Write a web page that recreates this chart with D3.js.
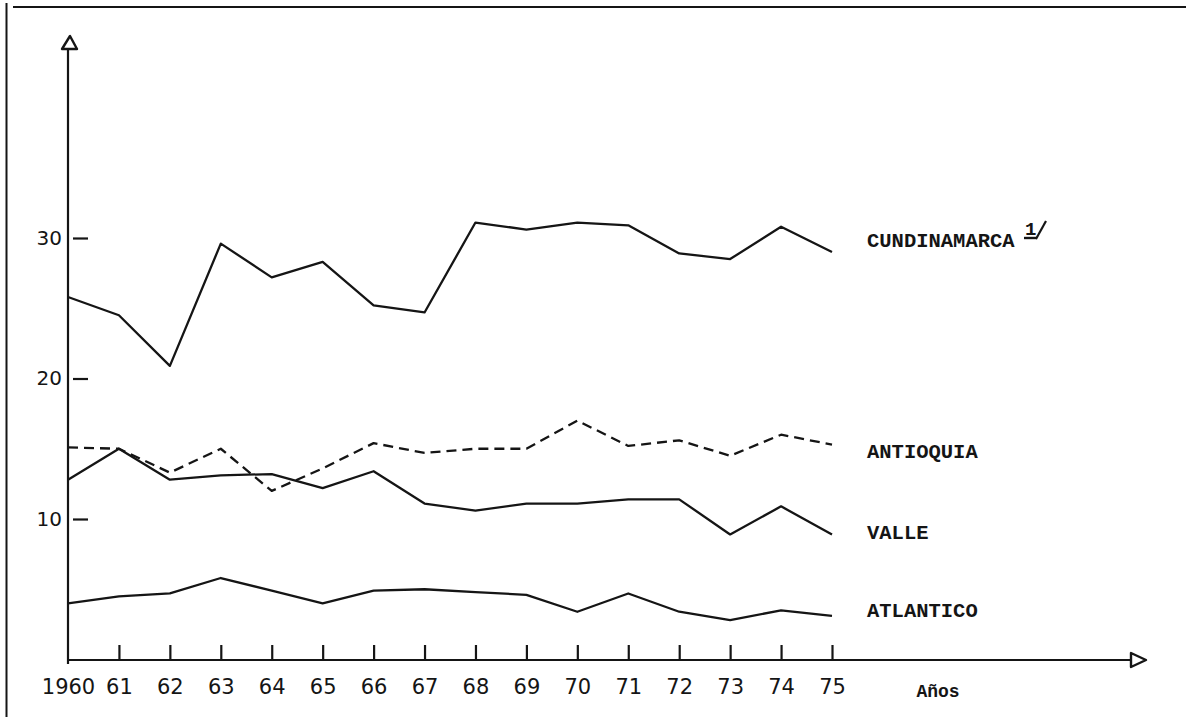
<!DOCTYPE html>
<html>
<head>
<meta charset="utf-8">
<script src="https://cdn.jsdelivr.net/npm/d3@7"></script>
<style>
body{margin:0;background:#fff}
svg{display:block}
</style>
</head>
<body>
<svg id="chart" width="1186" height="717"></svg>
<script>
// valores (porcentaje por departamento)
var YEARS = [1960,1961,1962,1963,1964,1965,1966,1967,1968,1969,1970,1971,1972,1973,1974,1975]
var CUNDINAMARCA = [25.8,24.5,20.9,29.6,27.2,28.3,25.2,24.7,31.1,30.6,31.1,30.9,28.9,28.5,30.8,29.0]
var ANTIOQUIA = [15.1,15.0,13.3,15.0,12.0,13.6,15.4,14.7,15.0,15.0,17.0,15.2,15.6,14.5,16.0,15.3]
var VALLE = [12.8,15.0,12.8,13.1,13.2,12.2,13.4,11.1,10.6,11.1,11.1,11.4,11.4,8.9,10.9,8.9]
var ATLANTICO = [4.0,4.5,4.7,5.8,4.9,4.0,4.9,5.0,4.8,4.6,3.4,4.7,3.4,2.8,3.5,3.1]
var Y_TICKS = [10,20,30]
var SERIES_NAMES = ["CUNDINAMARCA","ANTIOQUIA","VALLE","ATLANTICO"]
var X_TITLE = "Años"

var INK = "#151515"
var svg = d3.select("#chart")

var x = d3.scaleLinear().domain([1960,1975]).range([68,832])
var y = d3.scaleLinear().domain([0,30]).range([659.5,238])

//* marco de la hoja
svg.append("line").attr("x1",6.5).attr("y1",3).attr("x2",6.5).attr("y2",717)
    .attr("stroke",INK).attr("stroke-width",2)
svg.append("line").attr("x1",13).attr("y1",7).attr("x2",1186).attr("y2",7)
    .attr("stroke",INK).attr("stroke-width",2)

//* ejes con flecha abierta
svg.append("line").attr("x1",68).attr("y1",664).attr("x2",68).attr("y2",49)
    .attr("stroke",INK).attr("stroke-width",2.2)
svg.append("path").attr("d","M70,36 L62,49 L77,49 Z")
    .attr("fill","none").attr("stroke",INK).attr("stroke-width",2.4).attr("stroke-linejoin","round")
svg.append("line").attr("x1",68).attr("y1",660).attr("x2",1131).attr("y2",660)
    .attr("stroke",INK).attr("stroke-width",2.2)
svg.append("path").attr("d","M1146,660 L1131,653 L1131,667 Z")
    .attr("fill","none").attr("stroke",INK).attr("stroke-width",2.4).attr("stroke-linejoin","round")

var yAxis = svg.append("g").attr("transform","translate(68,0)")
    .call(d3.axisLeft(y).tickValues(Y_TICKS).tickSize(-20).tickPadding(6))
yAxis.select(".domain").remove()
yAxis.selectAll(".tick line").attr("x1",5).attr("stroke",INK).attr("stroke-width",2.2)
yAxis.selectAll(".tick text")
    .attr("fill",INK).style("font-family","DejaVu Sans").style("font-size","20px")

var xAxis = svg.append("g").attr("transform","translate(0,660)")
    .call(d3.axisBottom(x).tickValues(YEARS).tickSize(-15).tickPadding(19)
        .tickFormat(d => d == 1960 ? "1960" : String(d).slice(2)))
xAxis.select(".domain").remove()
xAxis.selectAll(".tick line").attr("stroke",INK).attr("stroke-width",2.2)
    .filter(d => d == 1960).remove()
xAxis.selectAll(".tick text")
    .attr("fill",INK).style("font-family","DejaVu Sans").style("font-size","21px")

svg.append("text").attr("x",938).attr("y",697).attr("text-anchor","middle")
    .attr("fill",INK).style("font-family","Liberation Mono").style("font-weight","bold").style("font-size","18px")
    .text(X_TITLE)

//* series
var line = d3.line().x((d,i) => x(YEARS[i])).y(d => y(d))
var series = [CUNDINAMARCA,ANTIOQUIA,VALLE,ATLANTICO]
var dashes = [null,"10,6",null,null]
var labelDy = [-12,6,-3,-6] // ajuste a ojo respecto al ultimo valor

series.forEach((vals,index) => {
    svg.append("path").datum(vals)
        .attr("d",line)
        .attr("fill","none")
        .attr("stroke",INK)
        .attr("stroke-width",2.3)
        .attr("stroke-linejoin","round")
        .attr("stroke-dasharray",dashes[index])
    svg.append("text")
        .attr("x",867)
        .attr("y",y(vals[vals.length-1]) + labelDy[index])
        .attr("dy","0.35em")
        .attr("fill",INK)
        .style("font-family","Liberation Mono")
        .style("font-weight","bold")
        .style("font-size","20.5px")
        .text(SERIES_NAMES[index])
})

// nota 1/ junto a CUNDINAMARCA
var note = svg.append("g").attr("transform","translate(1025,238)")
note.append("text").attr("x",0).attr("y",-3).attr("fill",INK)
    .style("font-family","Liberation Mono").style("font-weight","bold").style("font-size","19px")
    .text("1")
note.append("line").attr("x1",-1).attr("y1",0).attr("x2",12).attr("y2",0)
    .attr("stroke",INK).attr("stroke-width",2.4)
note.append("line").attr("x1",11).attr("y1",1).attr("x2",21).attr("y2",-17)
    .attr("stroke",INK).attr("stroke-width",2.2)
</script>
</body>
</html>
